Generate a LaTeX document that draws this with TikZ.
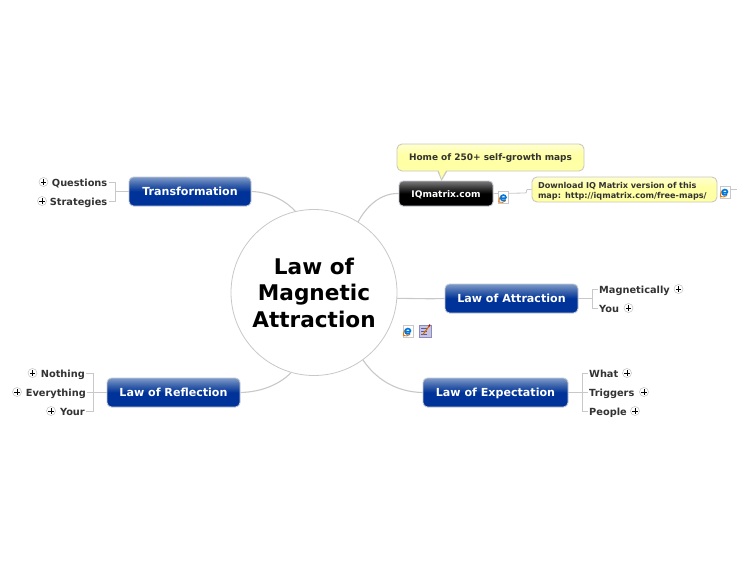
\documentclass[tikz,border=0pt]{standalone}
\usepackage{fontspec}
\setmainfont{DejaVu Sans}
\usetikzlibrary{calc}
\definecolor{inktext}{HTML}{333333}
\definecolor{linegray}{HTML}{C8C8C8}
\definecolor{boxedge}{HTML}{C4C9D2}
\definecolor{noteedge}{HTML}{C9C9C0}
\definecolor{HTMLdeep}{HTML}{003399}
\definecolor{HTMLmid}{HTML}{446AAE}
\definecolor{HTMLtop}{HTML}{7F9BCB}
\definecolor{HTMLgtop}{HTML}{7A7A7A}
\definecolor{HTMLnote}{HTML}{FFFFA6}
\definecolor{HTMLnotetop}{HTML}{FFFFD0}
\pgfdeclareverticalshading{bluegrad}{100bp}{
  color(0bp)=(HTMLdeep);
  color(25bp)=(HTMLdeep);
  color(50bp)=(HTMLdeep);
  color(64bp)=(HTMLmid);
  color(75bp)=(HTMLtop);
  color(100bp)=(HTMLtop)}
\pgfdeclareverticalshading{blackgrad}{100bp}{
  color(0bp)=(black);
  color(25bp)=(black);
  color(50bp)=(black);
  color(75bp)=(HTMLgtop);
  color(100bp)=(HTMLgtop)}
\pgfdeclareverticalshading{notegrad}{100bp}{
  color(0bp)=(HTMLnote);
  color(25bp)=(HTMLnote);
  color(55bp)=(HTMLnote);
  color(75bp)=(HTMLnotetop);
  color(100bp)=(HTMLnotetop)}
\tikzset{
  topicbox/.style={draw=boxedge,line width=0.9pt,rounded corners=4.5pt,shading=bluegrad,text=white,
    font=\fontsize{11.1}{13}\selectfont\bfseries,inner sep=0pt,minimum height=29pt,text height=8.5pt,text depth=0.5pt},
  blackbox/.style={draw=boxedge,line width=0.9pt,rounded corners=4pt,shading=blackgrad,text=white,
    font=\fontsize{9.1}{11}\selectfont\bfseries,inner sep=0pt,minimum height=25pt,minimum width=94pt,text height=8pt,text depth=0pt},
  notebox/.style={draw=noteedge,line width=0.9pt,rounded corners=5pt,shading=notegrad,text=inktext,
    font=\fontsize{8.97}{10}\selectfont\bfseries,inner sep=0pt,text depth=0pt},
  itemleft/.style={anchor=east,text=inktext,font=\fontsize{9.8}{11}\selectfont\bfseries,inner sep=1pt,text height=7.5pt,text depth=0.5pt,yshift=-0.5pt},
  itemright/.style={anchor=west,text=inktext,font=\fontsize{9.8}{11}\selectfont\bfseries,inner sep=1pt,text height=7.5pt,text depth=0.5pt,yshift=-0.5pt},
  plusbtn/.style={circle,draw=linegray,fill=white,line width=0.6pt,minimum size=9pt,inner sep=0pt,
    path picture={\draw[black,line width=0.8pt]
      ([xshift=-2.6pt]path picture bounding box.center)--([xshift=2.6pt]path picture bounding box.center)
      ([yshift=-2.6pt]path picture bounding box.center)--([yshift=2.6pt]path picture bounding box.center);}},
  mainlink/.style={draw=linegray,line width=1.1pt},
  sublink/.style={draw=linegray,line width=0.8pt},
  iconpage/.style={draw=linegray,fill=white,line width=0.5pt,minimum width=10pt,minimum height=12pt,inner sep=0pt},
  pics/ieglyph/.style={code={
    \draw[orange!90!black,line width=1pt] (-4.6,4.6) .. controls (-5,2) and (-3.6,0) .. (-2.8,-1.5);
    \draw[orange!90!black,line width=0.9pt] (-4.6,4.6) .. controls (-2,5.6) and (0,4.6) .. (2,3.4);
    \draw[blue!45!cyan!85!black,line width=1.6pt] (2.8,0.6) -- (-2.6,0.6) .. controls (-3.2,-3.2) and (2.4,-3.6) .. (2.8,0.4)
       (-2.6,0.6) .. controls (-3,3.2) and (0.5,3.6) .. (2.2,2.4);
  }},
  pics/noteglyph/.style={code={
    \draw[draw=blue!30!gray!70,fill=blue!30!gray!35,line width=0.8pt] (-6,-5.5) rectangle (6,6.5);
    \draw[gray!70!blue,line width=0.4pt] (-4,-2.5)--(2,-2.5) (-4,0.5)--(2,0.5) (-4,3.5)--(2,3.5);
    \draw[orange!85!black,line width=1.1pt] (-2,3.5)--(4.2,-5);
    \draw[red!70!black,line width=1.1pt] (3.8,-4.5)--(5,-6.5);
  }}
}
\begin{document}
\begin{tikzpicture}[x=1pt,y=-1pt]
\useasboundingbox (0,0) rectangle (750,563);
\fill[white] (0,0) rectangle (750,563);

% central topic
\node[circle,draw=linegray,fill=white,line width=0.8pt,minimum size=166pt,inner sep=0pt,
  align=center,font=\fontsize{21.6}{26.5}\selectfont\bfseries,text=black] (center) at (314,292.5)
  {Law of\\Magnetic\\Attraction};

% main topics
\node[topicbox,minimum width=122pt] (trans) at (190,191.5) {Transformation};
\node[blackbox] (iq) at (446,193.5) {IQmatrix.com};
\node[topicbox,minimum width=133pt] (attr) at (511.5,298.5) {Law of Attraction};
\node[topicbox,minimum width=145pt] (expe) at (495.5,392.5) {Law of Expectation};
\node[topicbox,minimum width=133pt] (refl) at (173.5,392.5) {Law of Reflection};

% main links
\draw[mainlink] (trans.east) .. controls (272,192) and (288,203) .. (center.103);
\draw[mainlink] (iq.west) .. controls (380,193) and (366,207) .. (center.58);
\draw[mainlink] (center.-4) .. controls (415,298.5) and (430,299) .. (attr.west);
\draw[mainlink] (center.-54) .. controls (375,378) and (395,392) .. (expe.west);
\draw[mainlink] (refl.east) .. controls (262,392) and (280,384) .. (center.-106);

% callout
\fill[noteedge] (437,170) -- (441.5,181) -- (448,170) -- cycle;
\node[notebox,minimum width=187pt,minimum height=27pt] (home) at (490.5,157.5) {Home of 250+ self-growth maps};
\fill[HTMLnote] (438.3,169) -- (441.5,178.5) -- (446.8,169) -- cycle;

% note
\node[notebox,minimum width=185pt,minimum height=25pt,align=left,text width=173pt,
  text height=7.2pt,text depth=8.8pt,
  font=\fontsize{8.13}{10}\selectfont\bfseries] (dl) at (624.5,189.5)
  {Download IQ Matrix version of this\\map: http://iqmatrix.com/free-maps/};
\coordinate (dlstep) at (526.5,193);
\draw[sublink,rounded corners=1pt] (iq.east) -- (dlstep) |- (dl.west);

% icons
\node[iconpage] (icoA) at (503.5,197.5) {};
\pic at (icoA) {ieglyph};
\node[iconpage] (icoB) at (725,192) {};
\pic at (icoB) {ieglyph};
\coordinate (tailend) at (737,189);
\draw[sublink] ($(icoB.east)+(0,-3)$) -- (tailend);
\node[iconpage] (icoC) at (408,331) {};
\pic at (icoC) {ieglyph};
\pic at (425,331) {noteglyph};

% Transformation children
\node[itemleft] (q) at (108.5,182) {Questions};
\node[itemleft] (s) at (108.5,201) {Strategies};
\node[plusbtn] (qp) at (43.5,182) {};
\node[plusbtn] (sp) at (42,201) {};
\coordinate (tb) at (115.5,191.5);
\draw[sublink] (trans.west) -- (tb);
\draw[sublink] (q.east) -| (tb);
\draw[sublink] (s.east) -| (tb);

% Attraction children
\node[itemright] (m) at (598,289) {Magnetically};
\node[itemright] (y) at (598,308) {You};
\node[plusbtn] (mp) at (678.5,289) {};
\node[plusbtn] (yp) at (628.5,308) {};
\coordinate (ab) at (592.5,298.5);
\draw[sublink] (attr.east) -- (ab);
\draw[sublink] (m.west) -| (ab);
\draw[sublink] (y.west) -| (ab);

% Expectation children
\node[itemright] (w) at (588,373) {What};
\node[itemright] (t) at (588,392) {Triggers};
\node[itemright] (p) at (588,411) {People};
\node[plusbtn] (wp) at (627,373) {};
\node[plusbtn] (tp) at (644,392) {};
\node[plusbtn] (pp) at (635,411) {};
\coordinate (eb) at (582.5,392.5);
\draw[sublink] (expe.east) -- (t.west |- eb);
\draw[sublink] (w.west) -| (eb);
\draw[sublink] (p.west) -| (eb);

% Reflection children
\node[itemleft] (n) at (86,373) {Nothing};
\node[itemleft] (e) at (87,392) {Everything};
\node[itemleft] (o) at (86,411) {Your};
\node[plusbtn] (np) at (32.5,373) {};
\node[plusbtn] (ep) at (17,392) {};
\node[plusbtn] (op) at (51,411) {};
\coordinate (rb) at (93.5,392.5);
\draw[sublink] (refl.west) -- (e.east |- rb);
\draw[sublink] (n.east) -| (rb);
\draw[sublink] (o.east) -| (rb);
\end{tikzpicture}
\end{document}
